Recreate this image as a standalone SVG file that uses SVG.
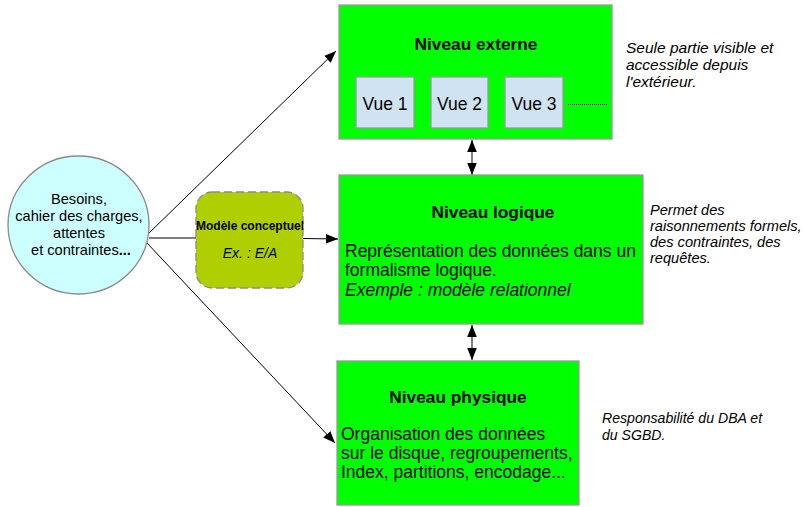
<svg xmlns="http://www.w3.org/2000/svg" width="805" height="507" viewBox="0 0 805 507">
<defs>
<marker id="ah" viewBox="0 0 10 10" refX="10" refY="5" markerWidth="12" markerHeight="12" markerUnits="userSpaceOnUse" orient="auto-start-reverse"><path d="M0,1 L10,5 L0,9 z" fill="#000"/></marker>
<style>
.box{fill:#00ff00;stroke:#9a9a9a;stroke-width:1.3}
.vue{fill:#cfe3f3;stroke:#9a9a9a;stroke-width:1.3}
.t{font-family:"Liberation Sans",Arial,sans-serif;fill:#000}
.b{font-weight:bold}
.i{font-style:italic}
.c{stroke:#000;stroke-width:1;fill:none}
</style>
</defs>
<rect width="805" height="507" fill="#fff"/>
<g id="connectors">
<line class="c" x1="149" y1="238" x2="196" y2="238"/>
<line class="c" x1="303" y1="238.5" x2="338" y2="239" marker-end="url(#ah)"/>
<line class="c" x1="147" y1="235" x2="336" y2="51" marker-end="url(#ah)"/>
<line class="c" x1="147" y1="243" x2="335" y2="443" marker-end="url(#ah)"/>
<line class="c" x1="472" y1="140" x2="472" y2="175" marker-start="url(#ah)" marker-end="url(#ah)"/>
<line class="c" x1="472" y1="325" x2="472" y2="360" marker-start="url(#ah)" marker-end="url(#ah)"/>
</g>
<g id="besoins">
<ellipse cx="78.5" cy="225" rx="70.5" ry="69" fill="#ccffff" stroke="#8a8a8a" stroke-width="1.3"/>
<text class="t" font-size="14.6" text-anchor="middle"><tspan x="79" y="204">Besoins,</tspan><tspan x="79" y="221">cahier des charges,</tspan><tspan x="79" y="238">attentes</tspan><tspan x="81" y="255">et contraintes<tspan class="b">...</tspan></tspan></text>
</g>
<g id="modele">
<rect x="196" y="192" width="107" height="96" rx="16" fill="#afcf00" stroke="#8a8a8a" stroke-width="1.3" stroke-dasharray="8,4"/>
<text class="t b" font-size="12" x="250" y="230" text-anchor="middle">Modèle conceptuel</text>
<text class="t i" font-size="14" x="250" y="258" text-anchor="middle">Ex. : E/A</text>
</g>
<g id="externe">
<rect class="box" x="339" y="5" width="273" height="134"/>
<text class="t b" font-size="17.3" x="476" y="50" text-anchor="middle">Niveau externe</text>
<rect class="vue" x="356" y="77" width="58" height="51"/>
<text class="t" font-size="17.5" x="385" y="110" text-anchor="middle">Vue 1</text>
<rect class="vue" x="431" y="77" width="57" height="51"/>
<text class="t" font-size="17.5" x="459.5" y="110" text-anchor="middle">Vue 2</text>
<rect class="vue" x="505" y="77" width="58" height="51"/>
<text class="t" font-size="17.5" x="534" y="110" text-anchor="middle">Vue 3</text>
<line x1="568" y1="104.5" x2="607" y2="104.5" stroke="#000" stroke-width="1" stroke-dasharray="1,1"/>
</g>
<g id="logique">
<rect class="box" x="339" y="175" width="304" height="149"/>
<text class="t b" font-size="17.3" x="493" y="218" text-anchor="middle">Niveau logique</text>
<text class="t" font-size="17.5"><tspan x="345" y="257">Représentation des données dans un</tspan><tspan x="345" y="276">formalisme logique.</tspan><tspan class="i" x="345" y="296">Exemple : modèle relationnel</tspan></text>
</g>
<g id="physique">
<rect class="box" x="337" y="361" width="242" height="144"/>
<text class="t b" font-size="17.3" x="458" y="403" text-anchor="middle">Niveau physique</text>
<text class="t" font-size="17.5"><tspan x="341" y="440">Organisation des données</tspan><tspan x="341" y="459">sur le disque, regroupements,</tspan><tspan x="341" y="478">Index, partitions, encodage...</tspan></text>
</g>
<g id="note-externe">
<text class="t i" font-size="15.5"><tspan x="626" y="53">Seule partie visible et</tspan><tspan x="626" y="70">accessible depuis</tspan><tspan x="626" y="87">l'extérieur.</tspan></text>
</g>
<g id="note-logique">
<text class="t i" font-size="14.6"><tspan x="650" y="215">Permet des</tspan><tspan x="650" y="231">raisonnements formels,</tspan><tspan x="650" y="247">des contraintes, des</tspan><tspan x="650" y="263">requêtes.</tspan></text>
</g>
<g id="note-physique">
<text class="t i" font-size="14.1"><tspan x="602" y="423">Responsabilité du DBA et</tspan><tspan x="602" y="440">du SGBD.</tspan></text>
</g>
</svg>
